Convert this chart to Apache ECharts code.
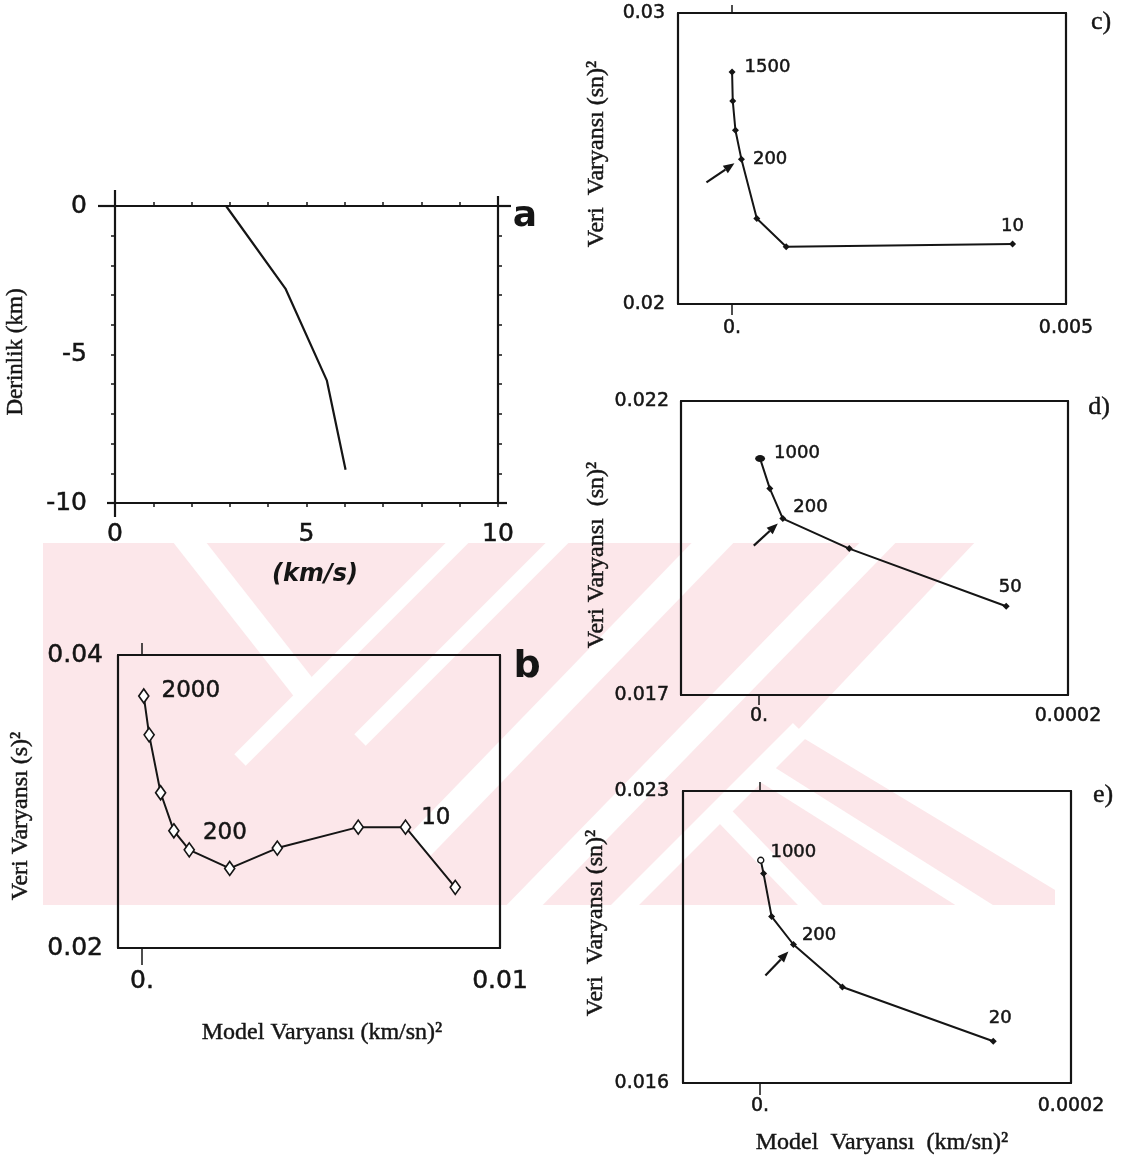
<!DOCTYPE html>
<html>
<head>
<meta charset="utf-8">
<script src="https://cdn.jsdelivr.net/npm/echarts@6/dist/echarts.min.js"></script>
<style>
  html, body { margin: 0; padding: 0; background: #fff; }
  #main { width: 1128px; height: 1160px; }
</style>
</head>
<body>
<div id="main"></div>
<script>
// ---- a) velocity-depth profile ----
const aVelocity = [2.9, 4.45, 5.53, 6.02];
const aDepth = [0, -2.78, -5.87, -8.88];
const aXTicks = [0, 5, 10];
const aXTickText = ['0', '5', '10'];
const aYTicks = [0, -5, -10];
const aYTickText = ['0', '-5', '-10'];
const aMinorX = [0, 1, 2, 3, 4, 5, 6, 7, 8, 9, 10];
const aMinorY = [0, -1, -2, -3, -4, -5, -6, -7, -8, -9, -10];

// ---- b) trade-off curve ----
const bModelVar = [0.00005, 0.0002, 0.00052, 0.00089, 0.00132, 0.00245, 0.00378, 0.00604, 0.00736, 0.00875];
const bDataVar = [0.0372, 0.03455, 0.0306, 0.0280, 0.0267, 0.02543, 0.02682, 0.02825, 0.02825, 0.02414];
const bTags = ['2000', '', '', '', '200', '', '', '', '10', ''];
const bXTicks = [0, 0.01];
const bXTickText = ['0.', '0.01'];
const bYTicks = [0.02, 0.04];
const bYTickText = ['0.02', '0.04'];

// ---- c) trade-off curve ----
const cModelVar = [0, 0.00001, 0.00005, 0.00014, 0.00037, 0.00081, 0.0042];
const cDataVar = [0.02797, 0.02698, 0.02597, 0.02497, 0.02294, 0.02197, 0.02206];
const cTags = ['1500', '', '', '200', '', '', '10'];
const cXTicks = [0, 0.005];
const cXTickText = ['0.', '0.005'];
const cYTicks = [0.02, 0.03];
const cYTickText = ['0.02', '0.03'];

// ---- d) trade-off curve ----
const dModelVar = [0.0000007, 0.000007, 0.0000154, 0.0000584, 0.00016];
const dDataVar = [0.02102, 0.02051, 0.0200, 0.01949, 0.01851];
const dTags = ['1000', '', '200', '', '50'];
const dXTicks = [0, 0.0002];
const dXTickText = ['0.', '0.0002'];
const dYTicks = [0.017, 0.022];
const dYTickText = ['0.017', '0.022'];

// ---- e) trade-off curve ----
const eModelVar = [0.0000005, 0.0000023, 0.0000075, 0.0000215, 0.000053, 0.00015];
const eDataVar = [0.02134, 0.02102, 0.01999, 0.01932, 0.0183, 0.017];
const eTags = ['1000', '', '', '200', '', '20'];
const eXTicks = [0, 0.0002];
const eXTickText = ['0.', '0.0002'];
const eYTicks = [0.016, 0.023];
const eYTickText = ['0.016', '0.023'];

const ink = '#151515';
const sans = '"DejaVu Sans", Verdana, sans-serif';
const serif = '"Liberation Serif", "Times New Roman", serif';
const heavy = { textBorderColor: ink, textBorderWidth: 0.5 };

const grids = [], xAxes = [], yAxes = [], series = [];

function pickText(ticks, texts) {
  return function (v) {
    let k = 0, best = Infinity;
    ticks.forEach(function (t, i) {
      const d = Math.abs(t - v);
      if (d < best) { best = d; k = i; }
    });
    return texts[k];
  };
}

function tickCfg(values, len) {
  return values.length
    ? { show: true, customValues: values, length: len, inside: false, lineStyle: { color: ink, width: 1.5 } }
    : { show: false };
}

// one framed panel: bottom/top x axes and left/right y axes drawn as a box
function addPanel(p) {
  const gi = grids.length;
  grids.push(Object.assign({ containLabel: false }, p.box));
  const line = { show: true, onZero: false, lineStyle: { color: ink, width: p.frameWidth } };
  const xi = xAxes.length, yi = yAxes.length;
  xAxes.push({
    gridIndex: gi, type: 'value', position: 'bottom', min: p.xMin, max: p.xMax,
    axisLine: line, splitLine: { show: false },
    axisTick: tickCfg(p.xBottomTicks, p.xBottomTickLen),
    axisLabel: Object.assign({
      customValues: p.xTicks, formatter: pickText(p.xTicks, p.xTickText),
      margin: p.xLabelMargin, color: ink, fontFamily: sans, fontSize: p.tickFont
    }, heavy)
  });
  xAxes.push({
    gridIndex: gi, type: 'value', position: 'top', min: p.xMin, max: p.xMax,
    axisLine: line, splitLine: { show: false },
    axisTick: tickCfg(p.xTopTicks, p.xTopTickLen),
    axisLabel: { show: false }
  });
  yAxes.push({
    gridIndex: gi, type: 'value', position: 'left', min: p.yMin, max: p.yMax,
    axisLine: line, splitLine: { show: false },
    axisTick: tickCfg(p.yLeftTicks, p.sideTickLen),
    axisLabel: Object.assign({
      customValues: p.yTicks, formatter: pickText(p.yTicks, p.yTickText),
      margin: p.yLabelMargin, color: ink, fontFamily: sans, fontSize: p.tickFont
    }, heavy)
  });
  yAxes.push({
    gridIndex: gi, type: 'value', position: 'right', min: p.yMin, max: p.yMax,
    axisLine: line, splitLine: { show: false },
    axisTick: tickCfg(p.yRightTicks, p.sideTickLen),
    axisLabel: { show: false }
  });
  return { xi: xi, yi: yi };
}

function taggedPoints(xs, ys, tags, tagStyle, symbolFor) {
  return xs.map(function (x, i) {
    const item = { value: [x, ys[i]] };
    const s = symbolFor ? symbolFor(i) : null;
    if (s) Object.assign(item, s);
    if (tags[i]) {
      item.label = Object.assign({ show: true, formatter: tags[i] }, tagStyle[tags[i]]);
    }
    return item;
  });
}

// a
const axA = addPanel({
  box: { left: 115, top: 206, width: 383, height: 297 },
  xMin: 0, xMax: 10, yMin: -10, yMax: 0, frameWidth: 2.2,
  xTicks: aXTicks, xTickText: aXTickText, yTicks: aYTicks, yTickText: aYTickText,
  xBottomTicks: aMinorX, xBottomTickLen: 4, xTopTicks: aMinorX, xTopTickLen: 4,
  yLeftTicks: aMinorY, yRightTicks: aMinorY, sideTickLen: 4,
  xLabelMargin: 19, yLabelMargin: 28, tickFont: 25
});
series.push({
  type: 'line', xAxisIndex: axA.xi, yAxisIndex: axA.yi, symbol: 'none',
  lineStyle: { color: ink, width: 2.2 },
  data: aVelocity.map(function (v, i) { return [v, aDepth[i]]; })
});

// b
const axB = addPanel({
  box: { left: 118, top: 655, width: 382, height: 293 },
  xMin: -0.00067, xMax: 0.01, yMin: 0.02, yMax: 0.04, frameWidth: 2.2,
  xTicks: bXTicks, xTickText: bXTickText, yTicks: bYTicks, yTickText: bYTickText,
  xBottomTicks: [0], xBottomTickLen: 17, xTopTicks: [0], xTopTickLen: 12,
  yLeftTicks: [], yRightTicks: [], sideTickLen: 0,
  xLabelMargin: 21, yLabelMargin: 15, tickFont: 25
});
const bigTag = Object.assign({ color: ink, fontFamily: sans, fontSize: 23 }, heavy);
series.push({
  type: 'line', xAxisIndex: axB.xi, yAxisIndex: axB.yi,
  symbol: 'diamond', symbolSize: [10, 14],
  itemStyle: { color: '#fff', borderColor: ink, borderWidth: 1.7 },
  lineStyle: { color: ink, width: 2 },
  label: bigTag,
  data: taggedPoints(bModelVar, bDataVar, bTags, {
    '2000': { position: 'right', distance: 12, offset: [0, -5] },
    '200': { position: 'right', distance: 8, offset: [0, -17] },
    '10': { position: 'right', distance: 10, offset: [0, -9] }
  })
});

// c, d, e share styling
const smallTag = Object.assign({ color: ink, fontFamily: sans, fontSize: 18 }, heavy);

const axC = addPanel({
  box: { left: 678, top: 13, width: 388, height: 291 },
  xMin: -0.00081, xMax: 0.005, yMin: 0.02, yMax: 0.03, frameWidth: 2.2,
  xTicks: cXTicks, xTickText: cXTickText, yTicks: cYTicks, yTickText: cYTickText,
  xBottomTicks: [0], xBottomTickLen: 11, xTopTicks: [0], xTopTickLen: 8,
  yLeftTicks: [], yRightTicks: [], sideTickLen: 0,
  xLabelMargin: 15, yLabelMargin: 13, tickFont: 19
});
series.push({
  type: 'line', xAxisIndex: axC.xi, yAxisIndex: axC.yi,
  symbol: 'diamond', symbolSize: 7, itemStyle: { color: ink },
  lineStyle: { color: ink, width: 2 }, label: smallTag,
  data: taggedPoints(cModelVar, cDataVar, cTags, {
    '1500': { position: 'right', distance: 9, offset: [0, -5] },
    '200': { position: 'right', distance: 8, offset: [0, 0] },
    '10': { position: 'top', distance: 5, offset: [0, 0] }
  })
});

const axD = addPanel({
  box: { left: 681, top: 401, width: 387, height: 294 },
  xMin: -0.0000505, xMax: 0.0002, yMin: 0.017, yMax: 0.022, frameWidth: 2.2,
  xTicks: dXTicks, xTickText: dXTickText, yTicks: dYTicks, yTickText: dYTickText,
  xBottomTicks: [0], xBottomTickLen: 10, xTopTicks: [], xTopTickLen: 0,
  yLeftTicks: [], yRightTicks: [], sideTickLen: 0,
  xLabelMargin: 12, yLabelMargin: 12, tickFont: 19
});
series.push({
  type: 'line', xAxisIndex: axD.xi, yAxisIndex: axD.yi,
  symbol: 'diamond', symbolSize: 7, itemStyle: { color: ink },
  lineStyle: { color: ink, width: 2 }, label: smallTag,
  data: taggedPoints(dModelVar, dDataVar, dTags, {
    '1000': { position: 'right', distance: 9, offset: [0, -5] },
    '200': { position: 'right', distance: 7, offset: [0, -11] },
    '50': { position: 'top', distance: 6, offset: [4, 0] }
  }, function (i) { return i === 0 ? { symbol: 'circle', symbolSize: [10, 7] } : null; })
});

const axE = addPanel({
  box: { left: 683, top: 791, width: 388, height: 292 },
  xMin: -0.0000495, xMax: 0.0002, yMin: 0.016, yMax: 0.023, frameWidth: 2.2,
  xTicks: eXTicks, xTickText: eXTickText, yTicks: eYTicks, yTickText: eYTickText,
  xBottomTicks: [0], xBottomTickLen: 12, xTopTicks: [0], xTopTickLen: 9,
  yLeftTicks: [], yRightTicks: [], sideTickLen: 0,
  xLabelMargin: 14, yLabelMargin: 14, tickFont: 19
});
series.push({
  type: 'line', xAxisIndex: axE.xi, yAxisIndex: axE.yi,
  symbol: 'diamond', symbolSize: 7, itemStyle: { color: ink },
  lineStyle: { color: ink, width: 2 }, label: smallTag,
  data: taggedPoints(eModelVar, eDataVar, eTags, {
    '1000': { position: 'right', distance: 6, offset: [0, -8] },
    '200': { position: 'right', distance: 5, offset: [0, -9] },
    '20': { position: 'top', distance: 10, offset: [7, 0] }
  }, function (i) {
    return i === 0 ? { symbol: 'circle', symbolSize: 6, itemStyle: { color: '#fff', borderColor: ink, borderWidth: 1.4 } } : null;
  })
});

// ---- static texts: titles and panel letters ----
function txt(x, y, text, font, rot, border) {
  return {
    type: 'text', x: x, y: y, rotation: rot || 0, z: 10,
    style: {
      text: text, font: font, fill: ink, align: 'center', verticalAlign: 'middle',
      stroke: ink, lineWidth: border === undefined ? 0.45 : border
    }
  };
}
const texts = [
  txt(16, 352, 'Derinlik (km)', '23px ' + serif, Math.PI / 2),
  txt(315, 575, '(km/s)', 'italic bold 24px ' + sans, 0, 0),
  txt(525, 217, 'a', 'bold 36px ' + sans, 0, 0),
  txt(21, 816, 'Veri Varyansı (s)²', '24px ' + serif, Math.PI / 2),
  txt(322, 1033, 'Model Varyansı (km/sn)²', '24px ' + serif),
  txt(527, 667, 'b', 'bold 38px ' + sans, 0, 0),
  txt(597, 154, 'Veri  Varyansı (sn)²', '24px ' + serif, Math.PI / 2),
  txt(1101, 22, 'c)', '26px ' + serif),
  txt(597, 555, 'Veri Varyansı  (sn)²', '24px ' + serif, Math.PI / 2),
  txt(1099, 407, 'd)', '26px ' + serif),
  txt(596, 923, 'Veri  Varyansı (sn)²', '24px ' + serif, Math.PI / 2),
  txt(1103, 795, 'e)', '26px ' + serif),
  txt(882, 1143, 'Model  Varyansı  (km/sn)²', '24px ' + serif)
];

// ---- pale striped emblem behind the panels ----
const wmPink = '#fce7ea';
const wmGaps = [
  { pts: [[180, 530], [307, 692]], w: 26 },
  { pts: [[470, 530], [240, 760]], w: 16 },
  { pts: [[570, 530], [360, 740]], w: 16 },
  { pts: [[725, 530], [420, 845]], w: 30 },
  { pts: [[890, 530], [515, 915]], w: 26 },
  { pts: [[800, 730], [615, 915]], w: 20 },
  { pts: [[716, 807], [820, 915]], w: 18 },
  { pts: [[760, 770], [990, 915]], w: 20 }
];
const watermark = [{
  type: 'rect', z: -20, silent: true,
  shape: { x: 43, y: 543, width: 1012, height: 362 },
  style: { fill: wmPink }
}, {
  type: 'polygon', z: -19, silent: true,
  shape: { points: [[977, 540], [1060, 540], [1060, 893], [795, 733]] },
  style: { fill: '#fff' }
}].concat(wmGaps.map(function (g) {
  return {
    type: 'polyline', z: -19, silent: true,
    shape: { points: g.pts },
    style: { stroke: '#fff', lineWidth: g.w, fill: null }
  };
}));

const chart = echarts.init(document.getElementById('main'), null, { renderer: 'canvas' });
chart.setOption({
  backgroundColor: '#fff',
  animation: false,
  grid: grids,
  xAxis: xAxes,
  yAxis: yAxes,
  series: series,
  graphic: watermark.concat(texts)
});

// ---- pieces placed from the chart's own scales ----
function px(seriesIndex, x, y) {
  return chart.convertToPixel({ seriesIndex: seriesIndex }, [x, y]);
}
function arrow(tip, tail) {
  const dx = tip[0] - tail[0], dy = tip[1] - tail[1];
  const L = Math.sqrt(dx * dx + dy * dy), ux = dx / L, uy = dy / L;
  const hl = 11, hw = 4.5;
  const bx = tip[0] - ux * hl, by = tip[1] - uy * hl;
  return [
    { type: 'line', z: 10, shape: { x1: tail[0], y1: tail[1], x2: bx, y2: by }, style: { stroke: ink, lineWidth: 2.2 } },
    { type: 'polygon', z: 10, shape: { points: [tip, [bx - uy * hw, by + ux * hw], [bx + uy * hw, by - ux * hw]] }, style: { fill: ink } }
  ];
}
const extra = [];
// arrows pointing at the 200 solution in c, d, e
[[2, cModelVar, cDataVar, cTags, [-7, 4], [-35, 23]],
 [3, dModelVar, dDataVar, dTags, [-5, 5], [-29, 27]],
 [4, eModelVar, eDataVar, eTags, [-5, 7], [-28, 31]]].forEach(function (r) {
  const k = r[3].indexOf('200');
  const p = px(r[0], r[1][k], r[2][k]);
  extra.push.apply(extra, arrow([p[0] + r[4][0], p[1] + r[4][1]], [p[0] + r[5][0], p[1] + r[5][1]]));
});
// panel a: frame lines run a little past the corners
const tl = px(0, 0, 0), br = px(0, 10, -10);
[[tl[0] - 17, tl[1], tl[0], tl[1]], [br[0], tl[1], br[0] + 13, tl[1]],
 [tl[0] - 8, br[1], tl[0], br[1]], [br[0], br[1], br[0] + 9, br[1]],
 [tl[0], tl[1] - 16, tl[0], tl[1]], [tl[0], br[1], tl[0], br[1] + 14],
 [br[0], tl[1] - 10, br[0], tl[1]]].forEach(function (s) {
  extra.push({ type: 'line', z: 10, shape: { x1: s[0], y1: s[1], x2: s[2], y2: s[3] }, style: { stroke: ink, lineWidth: 2.2 } });
});
chart.setOption({ graphic: watermark.concat(texts, extra) });
</script>
</body>
</html>
